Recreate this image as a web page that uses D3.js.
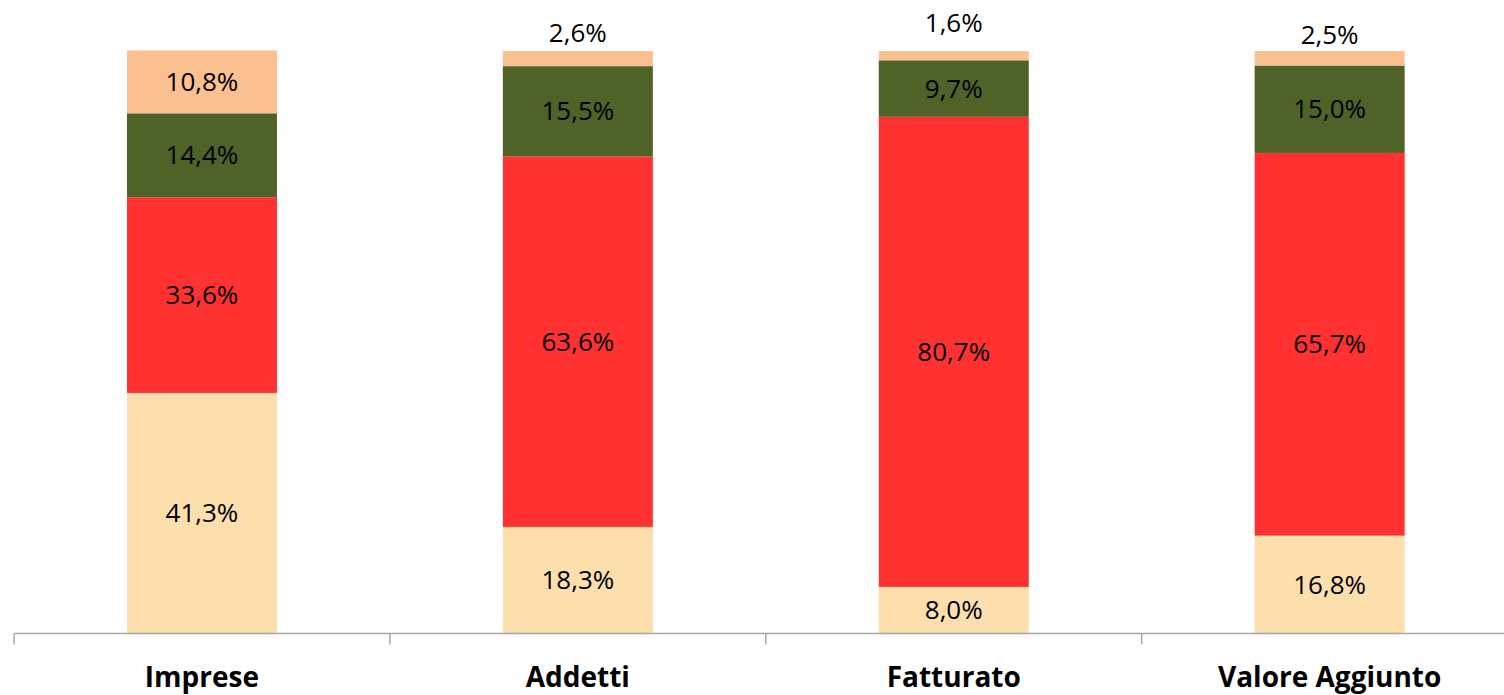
<!DOCTYPE html>
<html>
<head>
<meta charset="utf-8">
<script src="https://cdn.jsdelivr.net/npm/d3@7"></script>
<style>
  html, body { margin: 0; padding: 0; background: #fff; overflow: hidden; }
  svg { display: block; }
</style>
</head>
<body>
<svg id="chart" width="1504" height="695"></svg>
<script>
// ---- data ----
const categories = ["Imprese", "Addetti", "Fatturato", "Valore Aggiunto"];
const seriesNames = ["s1", "s2", "s3", "s4"]; // bottom -> top
const s1 = [41.3, 18.3, 8.0, 16.8];
const s2 = [33.6, 63.6, 80.7, 65.7];
const s3 = [14.4, 15.5, 9.7, 15.0];
const s4 = [10.8, 2.6, 1.6, 2.5];
const seriesColors = ["#FDDFAD", "#FF3131", "#4F6228", "#FAC090"];
// extra lift (px) for small top labels drawn above the bar
const topLabelLift = [0, 0, 10, -2];

const table = categories.map((c, i) => ({ cat: c, s1: s1[i], s2: s2[i], s3: s3[i], s4: s4[i] }));

const svg = d3.select("#chart");
const bandStart = 14, bandW = 375.9;
const x = d3.scaleBand().domain(categories)
  .range([bandStart, bandStart + bandW * categories.length])
  .paddingInner(0).paddingOuter(0);
const y = d3.scaleLinear().domain([0, 100]).range([633.5, 51]);
const barW = 150;

const stack = d3.stack().keys(seriesNames);
const layers = stack(table);

const fmt = v => v.toFixed(1).replace(".", ",") + "%";

layers.forEach((layer, li) => {
  svg.append("g").selectAll("rect").data(layer).join("rect")
    .attr("x", d => x(d.data.cat) + x.bandwidth() / 2 - barW / 2)
    .attr("width", barW)
    .attr("y", d => y(d[1]))
    .attr("height", d => y(d[0]) - y(d[1]))
    .attr("fill", seriesColors[li]);
});

// labels
layers.forEach((layer, li) => {
  svg.append("g").selectAll("text").data(layer).join("text")
    .attr("x", d => x(d.data.cat) + x.bandwidth() / 2)
    .attr("y", (d, i) => {
      const h = y(d[0]) - y(d[1]);
      if (h < 30) return y(d[1]) - 18 - topLabelLift[i];
      return (y(d[0]) + y(d[1])) / 2;
    })
    .attr("dy", "0.35em")
    .attr("text-anchor", "middle")
    .attr("font-family", "'Open Sans', sans-serif")
    .attr("font-size", 26)
    .attr("fill", "#000")
    .text(d => fmt(d[1] - d[0]));
});

// axis
const ag = svg.append("g").attr("transform", "translate(0,633.5)");
ag.append("line")
  .attr("x1", bandStart).attr("x2", bandStart + bandW * categories.length)
  .attr("y1", 0).attr("y2", 0)
  .attr("stroke", "#A6A6A6").attr("stroke-width", 1.5);
// boundary ticks between categories
const boundaries = d3.range(categories.length + 1).map(i => bandStart + i * bandW);
ag.selectAll("line.tk").data(boundaries).join("line")
  .attr("class", "tk")
  .attr("x1", d => d).attr("x2", d => d)
  .attr("y1", 0).attr("y2", 11)
  .attr("stroke", "#A6A6A6").attr("stroke-width", 1.5);
ag.selectAll("text.cat").data(categories).join("text")
  .attr("class", "cat")
  .attr("x", d => x(d) + x.bandwidth() / 2)
  .attr("y", 53)
  .attr("text-anchor", "middle")
  .attr("font-family", "'Open Sans', sans-serif")
  .attr("font-weight", "bold")
  .attr("font-size", 28)
  .attr("fill", "#000")
  .text(d => d);
</script>
</body>
</html>
